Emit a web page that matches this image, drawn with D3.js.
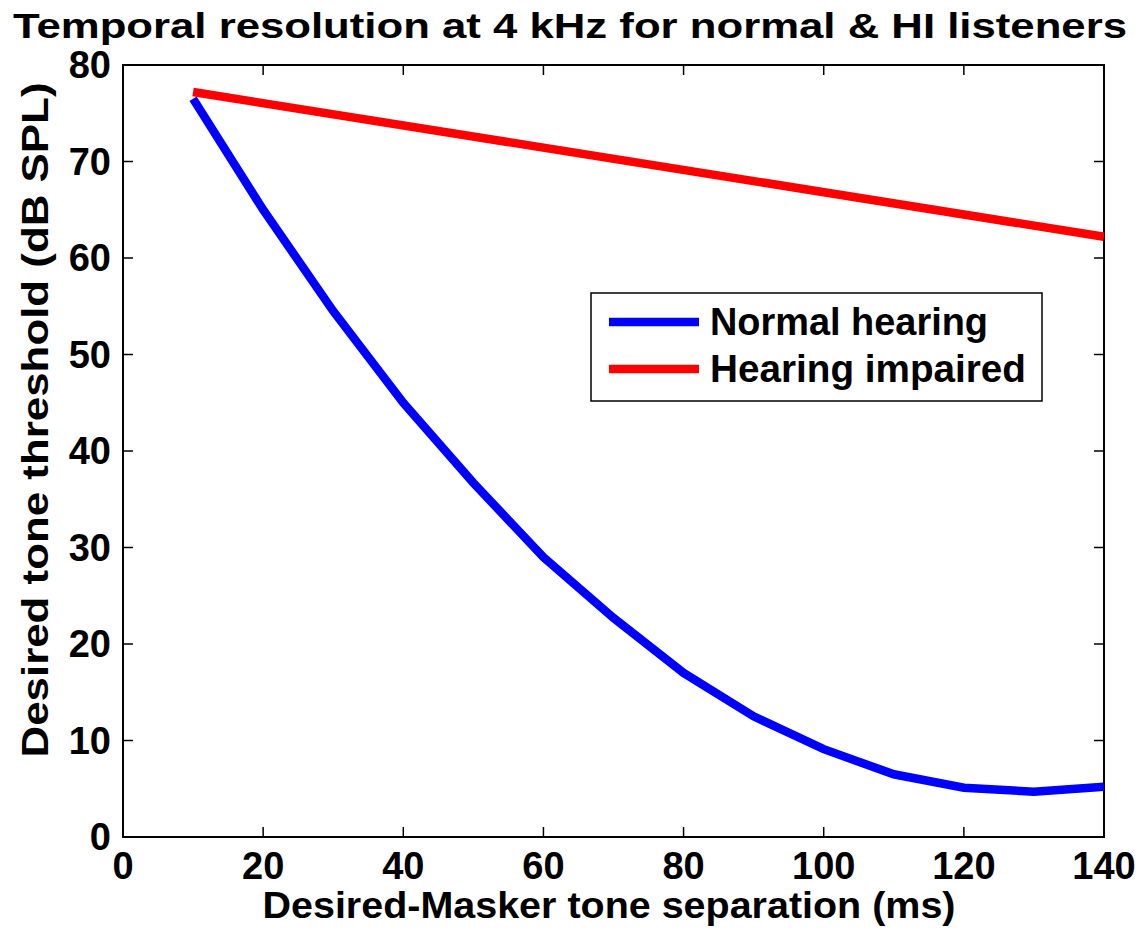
<!DOCTYPE html>
<html>
<head>
<meta charset="utf-8">
<script src="https://cdn.jsdelivr.net/npm/d3@7"></script>
<style>
  body { margin: 0; background: #fff; }
  svg { display: block; font-family: "Liberation Sans", Arial, sans-serif; font-weight: bold; }
</style>
</head>
<body>
<svg width="1142" height="932"></svg>
<script>
// --- data ---
const separation = [10, 20, 30, 40, 50, 60, 70, 80, 90, 100, 110, 120, 130, 140];
const normalHearing = [76.5, 65, 54.5, 45, 36.7, 29, 22.7, 17, 12.5, 9.1, 6.5, 5.1, 4.7, 5.2];
const impairedX = [10, 140];
const impairedY = [77.2, 62.2];
const xTicks = [0, 20, 40, 60, 80, 100, 120, 140];
const yTicks = [0, 10, 20, 30, 40, 50, 60, 70, 80];
const seriesNames = ["Normal hearing", "Hearing impaired"];
const seriesColors = ["#0000ff", "#ff0000"];
const legendWidths = [278, 316];

const svg = d3.select("svg");
const plotL = 123, plotR = 1104, plotT = 65, plotB = 837;

const x = d3.scaleLinear().domain([0, 140]).range([plotL, plotR]);
const y = d3.scaleLinear().domain([0, 80]).range([plotB, plotT]);

// axes box
const g = svg.append("g");
g.append("rect").attr("x", plotL).attr("y", plotT).attr("width", plotR - plotL).attr("height", plotB - plotT)
  .attr("fill", "none").attr("stroke", "#000").attr("stroke-width", 2);

// ticks on all four sides, pointing in
const tl = 10;
xTicks.forEach(t => {
  g.append("line").attr("x1", x(t)).attr("x2", x(t)).attr("y1", plotB).attr("y2", plotB - tl).attr("stroke", "#000").attr("stroke-width", 1.5);
  g.append("line").attr("x1", x(t)).attr("x2", x(t)).attr("y1", plotT).attr("y2", plotT + tl).attr("stroke", "#000").attr("stroke-width", 1.5);
});
yTicks.forEach(t => {
  g.append("line").attr("x1", plotL).attr("x2", plotL + tl).attr("y1", y(t)).attr("y2", y(t)).attr("stroke", "#000").attr("stroke-width", 1.5);
  g.append("line").attr("x1", plotR).attr("x2", plotR - tl).attr("y1", y(t)).attr("y2", y(t)).attr("stroke", "#000").attr("stroke-width", 1.5);
});

// tick labels
g.selectAll("text.xt").data(xTicks).enter().append("text")
  .attr("x", d => x(d)).attr("y", 879).attr("text-anchor", "middle")
  .attr("font-size", 38).text(d => d);
g.selectAll("text.yt").data(yTicks).enter().append("text")
  .attr("x", 111).attr("y", d => y(d) + 13).attr("text-anchor", "end")
  .attr("font-size", 38).text(d => d);

// lines
const line = d3.line().x(d => x(d[0])).y(d => y(d[1]));
const series = [
  separation.map((s, i) => [s, normalHearing[i]]),
  impairedX.map((s, i) => [s, impairedY[i]])
];
svg.append("path").datum(series[0]).attr("d", line).attr("fill", "none")
  .attr("stroke", seriesColors[0]).attr("stroke-width", 8.5);
svg.append("path").datum(series[1]).attr("d", line).attr("fill", "none")
  .attr("stroke", seriesColors[1]).attr("stroke-width", 8.5);

// title and labels
svg.append("text").attr("x", 570).attr("y", 38).attr("text-anchor", "middle")
  .attr("font-size", 35).attr("textLength", 1114).attr("lengthAdjust", "spacingAndGlyphs")
  .text("Temporal resolution at 4 kHz for normal & HI listeners");
svg.append("text").attr("x", 609).attr("y", 918).attr("text-anchor", "middle")
  .attr("font-size", 37).attr("textLength", 693).attr("lengthAdjust", "spacingAndGlyphs")
  .text("Desired-Masker tone separation (ms)");
svg.append("text").attr("transform", "translate(48,420) rotate(-90)").attr("text-anchor", "middle")
  .attr("font-size", 37).attr("textLength", 675).attr("lengthAdjust", "spacingAndGlyphs")
  .text("Desired tone threshold (dB SPL)");

// legend
const lg = svg.append("g");
lg.append("rect").attr("x", 591).attr("y", 293).attr("width", 451).attr("height", 108)
  .attr("fill", "#fff").attr("stroke", "#000").attr("stroke-width", 1.5);
seriesNames.forEach((name, i) => {
  const ly = 322 + i * 47;
  lg.append("line").attr("x1", 609).attr("x2", 699).attr("y1", ly).attr("y2", ly)
    .attr("stroke", seriesColors[i]).attr("stroke-width", 8.5);
  lg.append("text").attr("x", 710).attr("y", ly + 13).attr("font-size", 38)
    .attr("textLength", legendWidths[i]).attr("lengthAdjust", "spacingAndGlyphs").text(name);
});
</script>
</body>
</html>
